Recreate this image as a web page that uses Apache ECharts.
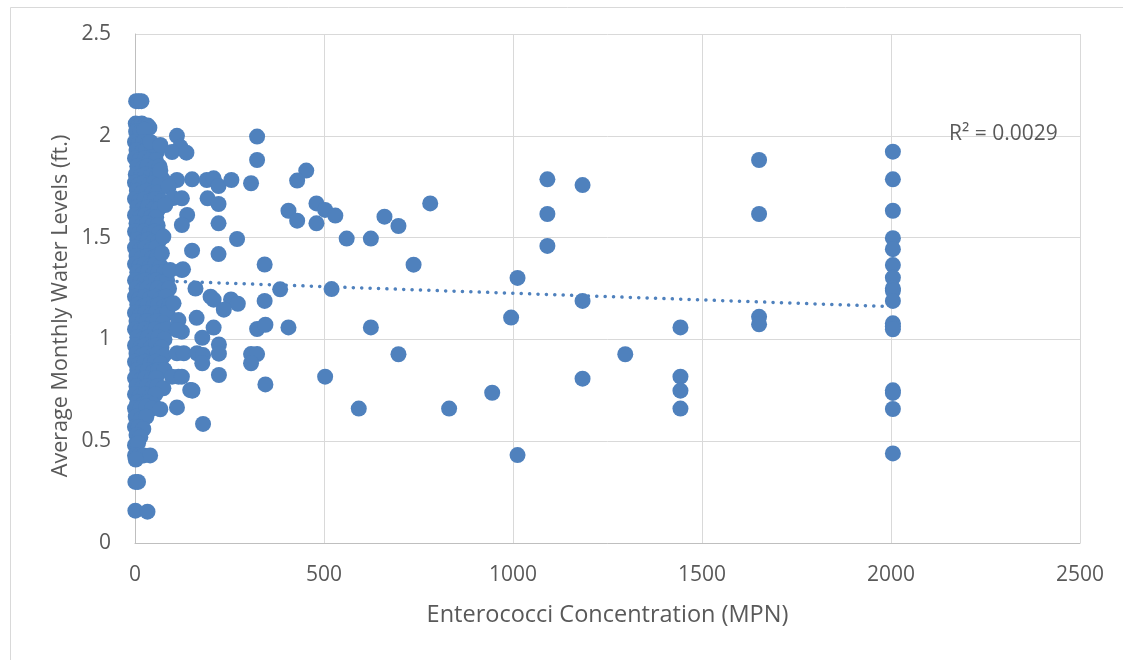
<!DOCTYPE html>
<html>
<head>
<meta charset="utf-8">
<script src="https://cdn.jsdelivr.net/npm/echarts@6/dist/echarts.min.js"></script>
<style>
html,body{margin:0;padding:0;background:#fff;}
#chart{width:1123px;height:660px;}
</style>
</head>
<body>
<div id="chart"></div>
<script>
// ---- data ----
var xTicks = [0, 500, 1000, 1500, 2000, 2500];
var yTicks = [0, 0.5, 1, 1.5, 2, 2.5];
var xTitle = 'Enterococci Concentration (MPN)';
var yTitle = 'Average Monthly Water Levels (ft.)';
var r2Label = 'R² = 0.0029';

// dense cluster near zero concentration [MPN, ft]
var clusterPoints = [
  [3,2.17],[10,2.17],[17,2.17],
  [2,2.06],[10,2.05],[18,2.06],[26,2.05],[34,2.05],[38,2.04],
  [3,2.02],[15,2.02],[25,2.03],
  [0,1.97],[10,1.96],[22,1.97],[35,1.96],[50,1.95],[60,1.94],
  [4,1.93],[18,1.92],[30,1.93],[45,1.93],[58,1.92],
  [0,1.89],[12,1.88],[26,1.89],[40,1.88],[55,1.88],
  [6,1.85],[20,1.84],[33,1.85],[48,1.84],[65,1.85],
  [2,1.81],[15,1.80],[28,1.81],[42,1.80],[58,1.80],[72,1.79],
  [0,1.77],[10,1.76],[24,1.77],[37,1.76],[50,1.77],[64,1.76],
  [5,1.73],[18,1.72],[32,1.73],[46,1.72],[60,1.72],
  [0,1.69],[12,1.68],[26,1.69],[40,1.68],[54,1.69],[70,1.68],
  [6,1.65],[20,1.64],[34,1.65],[48,1.64],[62,1.64],
  [0,1.61],[14,1.60],[28,1.61],[42,1.60],[56,1.60],
  [4,1.57],[18,1.56],[32,1.57],[46,1.56],[60,1.56],
  [0,1.53],[10,1.52],[24,1.53],[38,1.52],[52,1.53],[64,1.52],
  [6,1.49],[20,1.48],[34,1.49],[48,1.48],[62,1.48],
  [0,1.45],[14,1.44],[28,1.45],[42,1.44],[56,1.45],
  [4,1.41],[18,1.40],[32,1.41],[46,1.40],[60,1.41],
  [0,1.37],[12,1.36],[26,1.37],[40,1.36],[54,1.37],[68,1.36],
  [6,1.33],[20,1.32],[34,1.33],[48,1.32],[62,1.33],[78,1.33],
  [0,1.29],[14,1.28],[28,1.29],[42,1.28],[56,1.29],[70,1.28],[85,1.29],
  [4,1.25],[18,1.24],[32,1.25],[46,1.24],[60,1.25],[74,1.24],[90,1.25],
  [0,1.21],[12,1.20],[26,1.21],[40,1.20],[54,1.21],[68,1.20],[82,1.21],
  [6,1.17],[20,1.16],[34,1.17],[48,1.16],[62,1.17],[76,1.16],[92,1.17],
  [0,1.13],[14,1.12],[28,1.13],[42,1.12],[56,1.13],[70,1.12],[86,1.13],
  [4,1.09],[18,1.08],[32,1.09],[46,1.08],[60,1.09],[74,1.08],
  [0,1.05],[12,1.04],[26,1.05],[40,1.04],[54,1.05],[68,1.04],[84,1.05],
  [6,1.01],[20,1.00],[34,1.01],[48,1.00],[62,1.01],[78,1.00],
  [0,0.97],[14,0.96],[28,0.97],[42,0.96],[56,0.97],[70,0.96],
  [4,0.93],[18,0.92],[32,0.93],[46,0.92],[60,0.93],[76,0.92],
  [0,0.89],[12,0.88],[26,0.89],[40,0.88],[54,0.89],[68,0.88],
  [6,0.85],[20,0.84],[34,0.85],[48,0.84],[62,0.85],[78,0.85],
  [0,0.81],[14,0.80],[28,0.81],[42,0.80],[56,0.81],
  [4,0.77],[18,0.76],[32,0.77],[46,0.76],[60,0.77],[75,0.76],
  [0,0.73],[12,0.72],[26,0.73],[40,0.72],[54,0.73],
  [6,0.69],[20,0.68],[34,0.69],[48,0.68],
  [0,0.66],[14,0.66],[30,0.67],[45,0.66],
  [2,0.62],[16,0.61],[30,0.62],
  [0,0.57],[10,0.57],[22,0.56],
  [4,0.53],[14,0.52],
  [0,0.48],[8,0.49],
  [0,0.43],[12,0.43],[23,0.43],[40,0.43],[2,0.41],
  [1,0.30],[8,0.30],
  [1,0.159],[33,0.154]
];

// scattered points at low-to-mid concentration
var midPoints = [
  [111,2.0],[41,1.97],[67,1.955],[120,1.946],[98,1.92],[136,1.917],
  [67,1.83],[111,1.783],[151,1.786],[190,1.783],[208,1.791],[221,1.753],[255,1.783],[307,1.767],
  [323,1.996],[323,1.881],[89,1.75],[101,1.694],[124,1.693],[192,1.693],[221,1.665],[80,1.66],
  [138,1.611],[124,1.562],[221,1.570],[270,1.493],[151,1.436],[221,1.419],[75,1.505],[71,1.423],
  [124,1.341],[93,1.341],[127,1.344],[343,1.368],
  [160,1.25],[200,1.21],[208,1.195],[254,1.196],[272,1.175],[235,1.146],[102,1.177],[115,1.095],
  [163,1.106],[208,1.058],[178,1.008],[124,1.038],[111,1.046],[111,0.932],[129,0.932],[164,0.932],
  [180,0.923],[178,0.883],[222,0.975],[222,0.93],[222,0.825],[115,0.817],[98,0.817],[124,0.817],
  [151,0.75],[146,0.751],[111,0.666],[180,0.585],[67,0.657],[152,0.748],
  [384,1.246],[343,1.189],[323,1.051],[345,1.072],[406,1.059],[307,0.928],[323,0.928],[307,0.883],[345,0.779]
];

// scattered points at higher concentration
var highPoints = [
  [453,1.829],[429,1.780],[406,1.632],[429,1.583],[480,1.668],[503,1.636],[530,1.608],[480,1.570],
  [560,1.495],[624,1.495],[660,1.603],[697,1.557],[737,1.367],[781,1.668],[520,1.247],
  [624,1.059],[697,0.927],[503,0.817],[592,0.660],[831,0.660],[945,0.738],
  [1012,1.302],[995,1.107],[1012,0.432],
  [1091,1.786],[1091,1.616],[1091,1.459],
  [1184,1.758],[1184,1.189],[1184,0.807],
  [1297,0.927],
  [1443,1.059],[1443,0.817],[1443,0.748],[1443,0.660],
  [1651,1.881],[1651,1.616],[1651,1.111],[1651,1.074],
  [2005,1.922],[2005,1.786],[2005,1.632],[2005,1.497],[2005,1.443],[2005,1.365],[2005,1.303],
  [2005,1.250],[2005,1.239],[2005,1.189],[2005,1.079],[2005,1.065],[2005,1.050],
  [2005,0.750],[2005,0.737],[2005,0.658],[2005,0.440]
];

// linear trendline endpoints
var trendX = [0, 2005];
var trendY = [1.292, 1.161];

// ---- chart ----
var blue = '#4F81BD';
var textColor = '#595959';
var fontFam = '"Open Sans", "Liberation Sans", sans-serif';
var allPoints = clusterPoints.concat(midPoints, highPoints);

var chart = echarts.init(document.getElementById('chart'));
chart.setOption({
  backgroundColor: '#ffffff',
  animation: false,
  grid: { left: 135, right: 43, top: 34, bottom: 117, containLabel: false },
  xAxis: {
    type: 'value',
    min: xTicks[0], max: xTicks[xTicks.length - 1], interval: xTicks[1] - xTicks[0],
    name: xTitle, nameLocation: 'middle', nameGap: 60,
    nameTextStyle: { color: textColor, fontSize: 23.5, fontFamily: fontFam },
    axisLine: { show: true, lineStyle: { color: '#BFBFBF', width: 1 } },
    axisTick: { show: false },
    axisLabel: { color: textColor, fontSize: 21, fontFamily: fontFam, margin: 22,
      formatter: function (v) { return String(v); } },
    splitLine: { show: true, lineStyle: { color: '#D9D9D9', width: 1 } }
  },
  yAxis: {
    type: 'value',
    min: yTicks[0], max: yTicks[yTicks.length - 1], interval: yTicks[1] - yTicks[0],
    axisLine: { show: true, onZero: false, lineStyle: { color: '#BFBFBF', width: 1 } },
    axisTick: { show: false },
    axisLabel: { color: textColor, fontSize: 21, fontFamily: fontFam, margin: 24,
      formatter: function (v) { return String(v); } },
    splitLine: { show: true, lineStyle: { color: '#D9D9D9', width: 1 } }
  },
  graphic: [
    { type: 'rect', left: 8, top: 5, z: -10, silent: true,
      shape: { width: 1200, height: 700 },
      style: { fill: 'none', stroke: '#D9D9D9', lineWidth: 1 } },
    { type: 'text', x: 61, y: 306, rotation: Math.PI / 2, z: 100,
      style: { text: yTitle, fill: textColor, fontSize: 21.6, fontFamily: fontFam,
        textAlign: 'center', textVerticalAlign: 'middle' } },
    { type: 'text', left: 949, top: 124, z: 100,
      style: { text: r2Label, fill: textColor, fontSize: 21, fontFamily: fontFam } }
  ],
  series: [
    {
      type: 'line',
      data: trendX.map(function (x, i) { return [x, trendY[i]]; }),
      symbol: 'none',
      z: 1,
      lineStyle: { color: blue, width: 3.5, type: [0.1, 8.3], cap: 'round' }
    },
    {
      type: 'scatter',
      data: allPoints,
      symbol: 'circle',
      symbolSize: 16,
      z: 2,
      itemStyle: { color: blue, opacity: 1, borderWidth: 0 }
    }
  ]
});
</script>
</body>
</html>
